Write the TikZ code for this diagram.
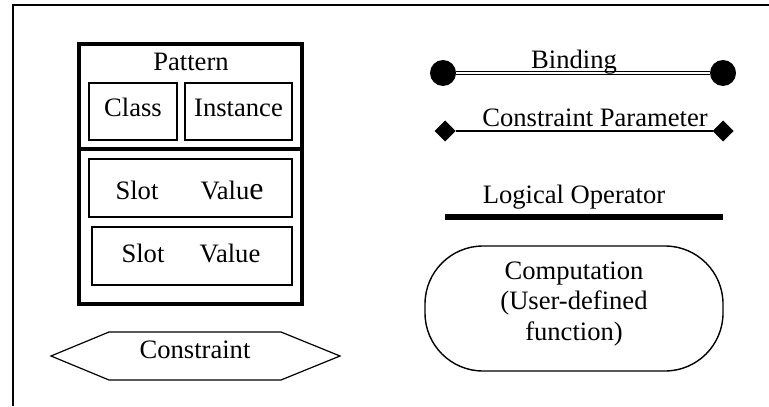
\documentclass[tikz,border=0pt]{standalone}
\usepackage{fontspec}
\setmainfont{Liberation Serif}
\usetikzlibrary{shapes.geometric}
\begin{document}
\begin{tikzpicture}[x=0.5pt,y=-0.5pt,
  every node/.style={inner sep=0pt, outer sep=0pt},
  lbl/.style={anchor=base, font=\fontsize{13.3}{15.3}\selectfont},
  thinbox/.style={draw, line width=0.55pt},
  thickbox/.style={draw, line width=1.75pt},
  outline/.style={line width=0.6pt, line join=miter},
  dot/.style={circle, fill, minimum size=13pt},
  gem/.style={diamond, fill, minimum size=10.5pt},
  bindline/.style={double, line width=0.5pt, double distance=0.55pt},
  paramline/.style={line width=0.6pt},
  opline/.style={line width=3pt},
  frame/.style={line width=1pt}]
\useasboundingbox (0,0) rectangle (769,406);

% frame: top and left edges only
\coordinate (ftr) at (769,5);
\coordinate (ftl) at (12.5,5);
\coordinate (fbl) at (12.5,406);
\draw[frame] (ftr) -- (ftl) -- (fbl);

% pattern box
\node[thickbox, minimum width=111.5pt, minimum height=130pt] (pat) at (190.5,174) {};
\coordinate (div) at (0,149);
\draw[thickbox] (pat.west |- div) -- (pat.east |- div);
\node[lbl] (pattxt) at (191,71) {Pattern};
\node[thinbox, minimum width=44pt, minimum height=28.5pt] (cls) at (133,111.5) {};
\node[thinbox, minimum width=53.5pt, minimum height=28.5pt] (inst) at (238.5,111.5) {};
\node[lbl] (clstxt) at (133,117) {Class};
\node[lbl] (insttxt) at (238.5,117) {Instance};
\node[thinbox, minimum width=101.5pt, minimum height=29pt] (sv1) at (190.5,188) {};
\node[thinbox, minimum width=100pt, minimum height=29pt] (sv2) at (192,256) {};
\node[lbl] (slot1) at (137,199) {Slot};
\node[lbl] (val1) at (232,199) {Valu{\fontsize{16}{16}\selectfont e}};
\node[lbl] (slot2) at (143,262) {Slot};
\node[lbl] (val2) at (230,262) {Value};

% constraint hexagon
\draw[outline] (51,356) -- (109,332) -- (281,332) -- (340,356) -- (281,380) -- (109,380) -- cycle;
\node[lbl] (cons) at (195,358) {Constraint};

% binding
\node[dot] (b1) at (443,73) {};
\node[dot] (b2) at (723,73) {};
\draw[bindline] (b1) -- (b2);
\node[lbl] (bindtxt) at (574,69) {Binding};

% constraint parameter
\node[gem] (d1) at (445,131) {};
\node[gem] (d2) at (723,131) {};
\draw[paramline] (d1) -- (d2);
\node[lbl] (paramtxt) at (595,127) {Constraint Parameter};

% logical operator
\node[lbl] (optxt) at (574,203) {Logical Operator};
\coordinate (l1) at (445,217);
\coordinate (l2) at (723,217);
\draw[opline] (l1) -- (l2);

% computation
\node[draw, line width=0.7pt, rounded corners=29pt, minimum width=149pt, minimum height=62.5pt] (comp) at (574,308.5) {};
\node[font=\fontsize{13.3}{15.3}\selectfont, align=center] (comptxt) at (574,304) {Computation\\(User-defined\\function)};
\end{tikzpicture}
\end{document}
